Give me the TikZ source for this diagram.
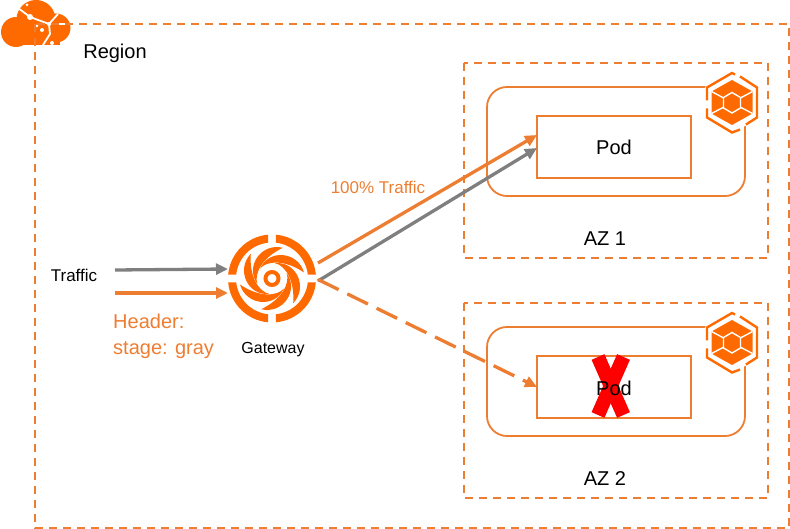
\documentclass[tikz,border=0pt]{standalone}
\usepackage{fontspec}
\setmainfont{Liberation Sans}
\usetikzlibrary{arrows.meta}
\definecolor{brand}{HTML}{FF6A00}
\definecolor{edge}{HTML}{ED7D31}
\definecolor{flow}{HTML}{7F7F7F}
\tikzset{
  zone/.style={draw=edge,line width=1.8pt,dash pattern=on 8pt off 6pt},
  frame/.style={draw=edge,line width=1.8pt,rounded corners=20pt},
  podbox/.style={draw=edge,line width=1.8pt,minimum width=154pt,minimum height=62pt,inner sep=0pt,text height=16pt,text depth=0pt,font=\fontsize{20}{20}\selectfont},
  label/.style={inner sep=0pt,font=\fontsize{#1}{#1}\selectfont},
  label/.default=20,
  link/.style={line width=3.3pt,-{Triangle[length=12pt,width=11pt]}},
  cutline/.style={white,line width=1.4pt},
  hexicon/.pic={
    \fill[white] (0,-31) -- (27,-15.5) -- (27,15.5) -- (0,31) -- (-27,15.5) -- (-27,-15.5) -- cycle;
    \draw[brand,line width=2.4pt] (8,-26) -- (25,-15) -- (25,15) -- (14,22);
    \draw[brand,line width=2.4pt] (8,27) -- (0,30) -- (-25,15) -- (-25,6);
    \draw[brand,line width=2.4pt] (-25,-2) -- (-25,-15) -- (0,-29.5) -- (3,-28);
    \fill[brand] (0,-22.5) -- (20.5,-11) -- (20.5,11) -- (0,22.5) -- (-20.5,11) -- (-20.5,-11) -- cycle;
    \draw[cutline] (-20.5,-11) -- (0,0) -- (20.5,-11);
    \draw[cutline] (-20.5,11) -- (-9,5);
    \draw[cutline] (20.5,11) -- (9,5);
    \fill[brand,draw=white,line width=1.4pt] (0,-10) -- (8.5,-5) -- (8.5,5.5) -- (0,10.5) -- (-8.5,5.5) -- (-8.5,-5) -- cycle;
  },
  swirlicon/.pic={
    \foreach \a in {0,90,180,270} {
      \fill[brand,rotate=\a] (5:44) arc (5:85:44) -- (84:36) arc (84:6:36) -- cycle;
    }
    \draw[brand,line width=4pt] (0,0) circle (6.5);
    \foreach \a in {0,60,...,300} {
      \fill[brand,rotate=\a] (32,-6) .. controls (26,-27) and (-3,-30) .. (-12,-10)
        .. controls (-5,-18) and (13,-19) .. (32,-6) -- cycle;
    }
  },
  cloudicon/.pic={
    \fill[brand] (16,32) circle (15);
    \fill[brand] (36,19.5) circle (19.5);
    \fill[brand] (56,28) circle (14.5);
    \fill[brand] (16,30) rectangle (60,45.5);
    \draw[white,line width=1.8pt] (18,8) -- (30,17) -- (49,24) -- (58,14);
    \draw[white,line width=1.8pt] (49,24) -- (50,34) -- (43,45);
    \draw[white,line width=1.2pt] (49,24) -- (70,24);
    \fill[white] (30,17) circle (3) (49,24) circle (2) (42,30) circle (2) (37,26) circle (1.5) (52,43) circle (2) (27,5) circle (1.5);
  }
}
\begin{document}
\begin{tikzpicture}[x=1pt,y=-1pt]
  \useasboundingbox (0,0) rectangle (790,529);
  % cloud sits under the region outline
  \pic at (0,0) {cloudicon};
  \draw[zone] (35,24) rectangle (789,528);
  \node[label] (region) at (115,53) {Region};
  % zones
  \draw[zone] (464,63) rectangle (768,258);
  \draw[zone] (464,303) rectangle (768,498);
  \draw[frame] (487,87) rectangle (745,196);
  \draw[frame] (487,327) rectangle (745,436);
  \pic at (732,102.5) {hexicon};
  \pic at (732,342.5) {hexicon};
  \node[podbox] (pod1) at (614,147) {Pod};
  \node[podbox] (pod2) at (614,387) {};
  \draw[red,line width=14pt] (598,357) -- (623.5,415);
  \draw[red,line width=14pt] (623.5,357) -- (598,415);
  \node[label] (podtext) at (614,388) {Pod};
  \node[label] (az1) at (605,239) {AZ 1};
  \node[label] (az2) at (605,479) {AZ 2};
  % gateway
  \pic at (272,278.5) {swirlicon};
  \node[label=16] (gwtext) at (273,349.5) {Gateway};
  \coordinate (gw1) at (318,263);
  \coordinate (gw2) at (318,281);
  \coordinate (gw3) at (318,279.5);
  \coordinate (gwin1) at (228,269);
  \coordinate (gwin2) at (228,293);
  \coordinate (src1) at (115,270);
  \coordinate (src2) at (115,293);
  \coordinate (pod1a) at (537,135);
  \coordinate (pod1b) at (537,148);
  \coordinate (pod2a) at (537,387);
  % traffic
  \node[label=17] (traffic) at (74,275) {Traffic};
  \node[label,text=edge,align=left,anchor=north west,font=\fontsize{20}{26}\selectfont] (header) at (113,314) {Header:\\stage: gray};
  \node[label=17,text=edge] (percent) at (378,187) {100\% Traffic};
  \begin{scope}[link]
    \draw[flow] (src1) to (gwin1);
    \draw[edge] (src2) to (gwin2);
    \draw[edge] (gw1) to (pod1a);
    \draw[flow] (gw2) to (pod1b);
    \draw[edge,dash pattern=on 23pt off 9.6pt] (gw3) to (pod2a);
  \end{scope}
\end{tikzpicture}
\end{document}
